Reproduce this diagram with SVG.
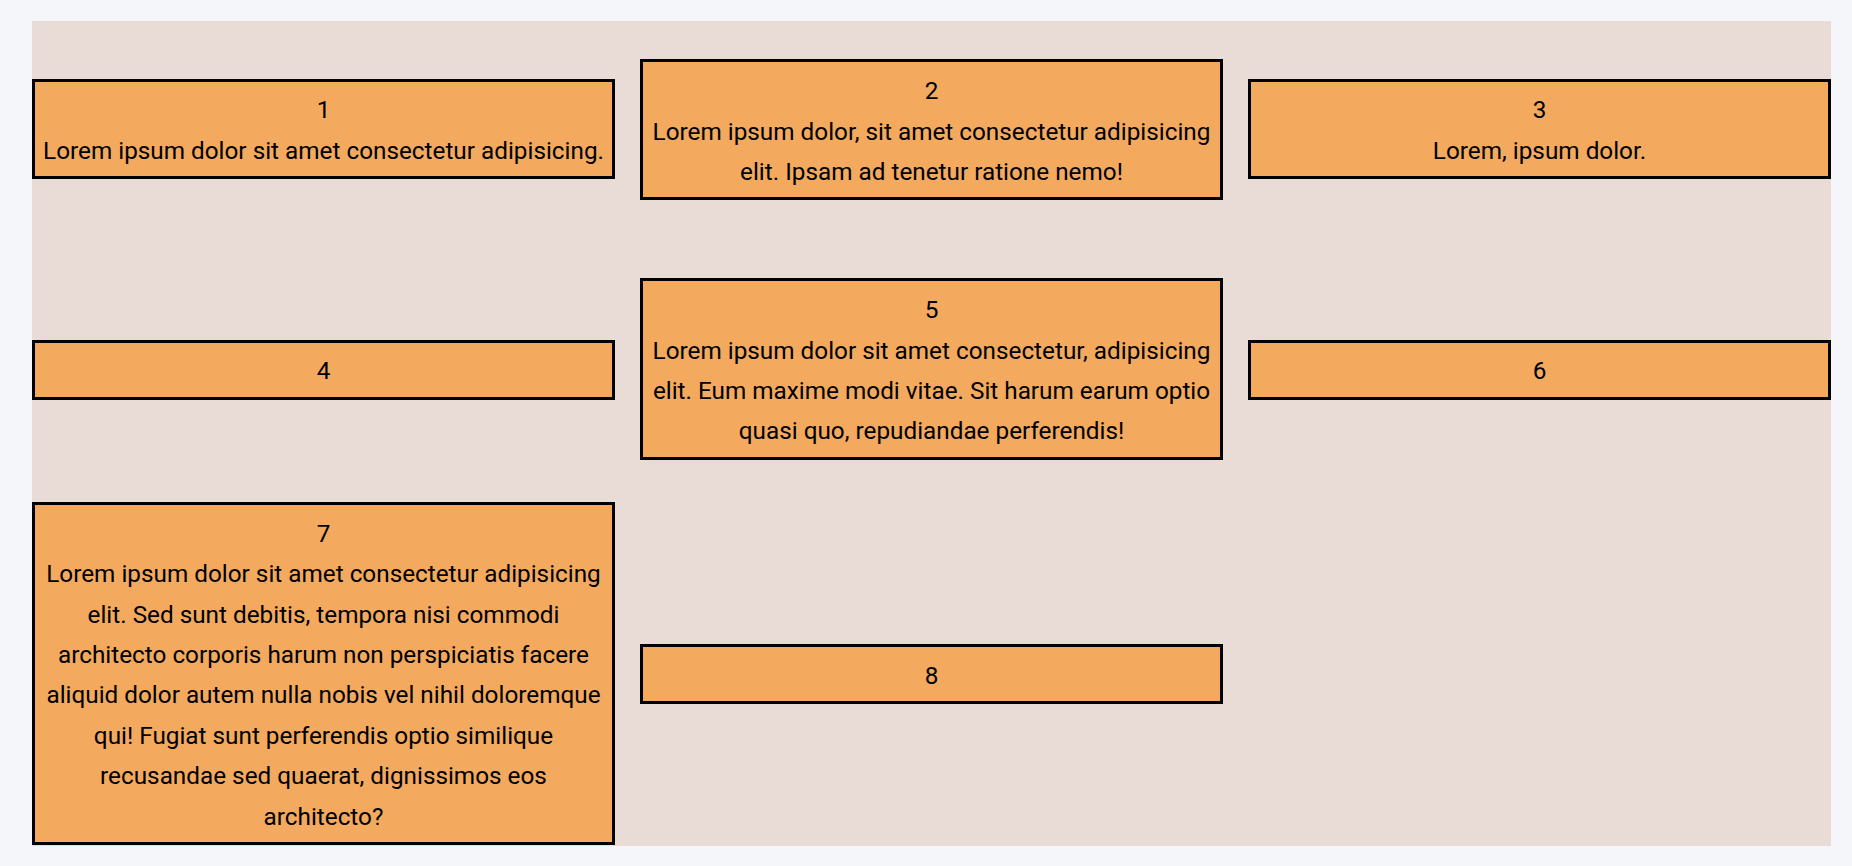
<svg xmlns="http://www.w3.org/2000/svg" width="1852" height="866" viewBox="0 0 1852 866">
<style>
.node rect{fill:#f3aa5f;stroke:#000;stroke-width:3}
.node text{font-family:Roboto,"Liberation Sans",sans-serif;font-size:24.3px;fill:#000;text-anchor:middle}
</style>
<rect x="0" y="0" width="1852" height="866" fill="#f5f6fa"/>
<rect x="32" y="21" width="1799" height="825" fill="#e9dbd5"/>
<g id="connectors"/>
<g id="node1" class="node">
<rect x="33.5" y="80.5" width="580" height="97"/>
<text x="323.5" y="118.3">1</text>
<text x="323.5" y="159">Lorem ipsum dolor sit amet consectetur adipisicing.</text>
</g>
<g id="node2" class="node">
<rect x="641.5" y="60.5" width="580" height="138"/>
<text x="931.5" y="99">2</text>
<text x="931.5" y="140">Lorem ipsum dolor, sit amet consectetur adipisicing</text>
<text x="931.5" y="180">elit. Ipsam ad tenetur ratione nemo!</text>
</g>
<g id="node3" class="node">
<rect x="1249.5" y="80.5" width="580" height="97"/>
<text x="1539.5" y="118.3">3</text>
<text x="1539.5" y="159">Lorem, ipsum dolor.</text>
</g>
<g id="node4" class="node">
<rect x="33.5" y="341.5" width="580" height="57"/>
<text x="323.5" y="379.3">4</text>
</g>
<g id="node5" class="node">
<rect x="641.5" y="279.5" width="580" height="179"/>
<text x="931.5" y="317.7">5</text>
<text x="931.5" y="359.3">Lorem ipsum dolor sit amet consectetur, adipisicing</text>
<text x="931.5" y="399.3">elit. Eum maxime modi vitae. Sit harum earum optio</text>
<text x="931.5" y="439.3">quasi quo, repudiandae perferendis!</text>
</g>
<g id="node6" class="node">
<rect x="1249.5" y="341.5" width="580" height="57"/>
<text x="1539.5" y="379.3">6</text>
</g>
<g id="node7" class="node">
<rect x="33.5" y="503.5" width="580" height="340"/>
<text x="323.5" y="541.7">7</text>
<text x="323.5" y="582.1">Lorem ipsum dolor sit amet consectetur adipisicing</text>
<text x="323.5" y="622.5">elit. Sed sunt debitis, tempora nisi commodi</text>
<text x="323.5" y="662.9">architecto corporis harum non perspiciatis facere</text>
<text x="323.5" y="703.3">aliquid dolor autem nulla nobis vel nihil doloremque</text>
<text x="323.5" y="743.7">qui! Fugiat sunt perferendis optio similique</text>
<text x="323.5" y="784.1">recusandae sed quaerat, dignissimos eos</text>
<text x="323.5" y="824.5">architecto?</text>
</g>
<g id="node8" class="node">
<rect x="641.5" y="645.5" width="580" height="57"/>
<text x="931.5" y="683.5">8</text>
</g>
</svg>
